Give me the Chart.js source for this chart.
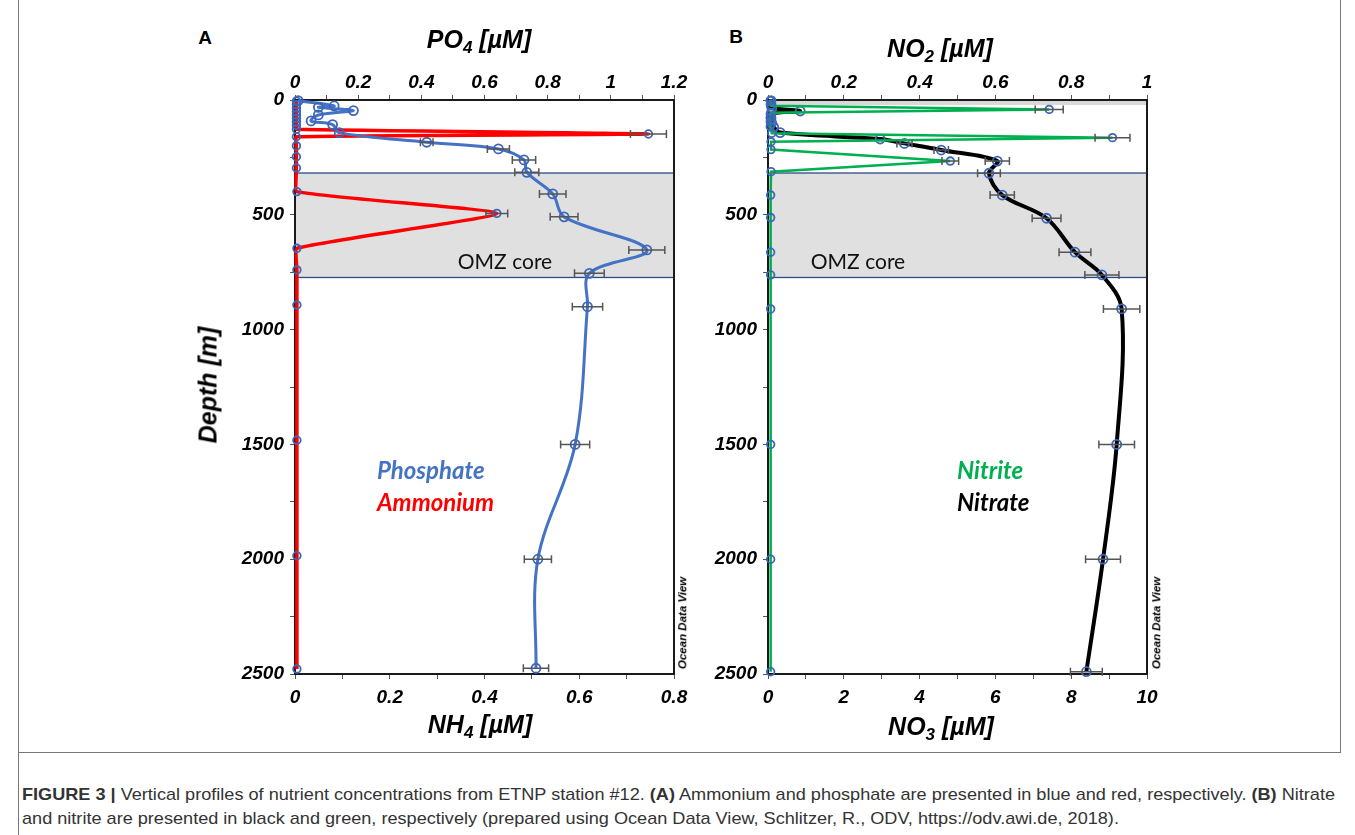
<!DOCTYPE html>
<html>
<head>
<meta charset="utf-8">
<script src="https://cdn.jsdelivr.net/npm/chart.js@4.4.1/dist/chart.umd.min.js"></script>
<style>
body { margin:0; width:1355px; height:835px; background:#fff; position:relative; overflow:hidden; font-family:"Liberation Sans", Arial, sans-serif; }
canvas { position:absolute; }
.t { position:absolute; white-space:nowrap; line-height:1; }
.c { transform:translate(-50%,-50%); }
.l { transform:translate(0,-50%); }
.ax { font-weight:bold; font-style:italic; font-size:25px; color:#000; }
.ax sub { font-size:0.68em; vertical-align:-0.3em; line-height:0; }
.pl { font-weight:bold; font-size:19px; }
.lg { font-family:Lato, "Open Sans", sans-serif; font-weight:bold; font-style:italic; font-size:24px; }
.omz { font-family:Lato, "Open Sans", sans-serif; font-size:21px; color:#111; }
.odv { font-weight:bold; font-style:italic; font-size:11.5px; transform:translate(-50%,-50%) rotate(-90deg); }
.frame { position:absolute; background:#777; }
.cap { position:absolute; left:22px; white-space:nowrap; font-family:"Liberation Sans Narrow", "Liberation Sans", Arial, sans-serif; font-size:17px; line-height:1; color:#333; transform-origin:0 50%; }
</style>
</head>
<body>
<div class="frame" style="left:18px;top:0;width:1px;height:835px"></div>
<div class="frame" style="left:1340px;top:0;width:1px;height:752px"></div>
<div class="frame" style="left:18px;top:752px;width:1323px;height:1px"></div>

<canvas id="chartA" width="490" height="680" style="left:215px;top:50px"></canvas>
<canvas id="chartB" width="490" height="680" style="left:688px;top:50px"></canvas>

<div class="t c pl" style="left:205px;top:37px">A</div>
<div class="t c pl" style="left:736px;top:36px">B</div>
<div class="t c ax" style="left:479px;top:39px">PO<sub>4</sub> [µM]</div>
<div class="t c ax" style="left:480px;top:724px">NH<sub>4</sub> [µM]</div>
<div class="t c ax" style="left:940px;top:48px">NO<sub>2</sub> [µM]</div>
<div class="t c ax" style="left:941px;top:726px">NO<sub>3</sub> [µM]</div>
<div class="t ax" style="left:208px;top:385px;transform:translate(-50%,-50%) rotate(-90deg)">Depth [m]</div>
<div class="t odv" style="left:683px;top:623px">Ocean Data View</div>
<div class="t odv" style="left:1157px;top:623px">Ocean Data View</div>
<div class="t c omz" style="left:505px;top:260px">OMZ core</div>
<div class="t c omz" style="left:858px;top:260px">OMZ core</div>
<div class="t l lg" style="left:377px;top:470px;color:#4472c4">Phosphate</div>
<div class="t l lg" style="left:377px;top:502px;color:#ff0000">Ammonium</div>
<div class="t l lg" style="left:957px;top:470px;color:#00b050">Nitrite</div>
<div class="t l lg" style="left:957px;top:502px;color:#000">Nitrate</div>

<div class="cap" id="cap1" style="top:786px"><b>FIGURE 3 |</b> Vertical profiles of nutrient concentrations from ETNP station #12. <b>(A)</b> Ammonium and phosphate are presented in blue and red, respectively. <b>(B)</b> Nitrate</div>
<div class="cap" id="cap2" style="top:810px">and nitrite are presented in black and green, respectively (prepared using Ocean Data View, Schlitzer, R., ODV, https://odv.awi.de, 2018).</div>

<script>
// Panel A : phosphate (top axis) and ammonium (bottom axis), depth in m
const phosDepth = [3, 26, 32, 46, 65, 91, 107, 142, 184, 213, 261, 315, 409, 509, 653, 755, 900, 1500, 2000, 2475];
const phosValue = [0.01, 0.124, 0.074, 0.185, 0.074, 0.051, 0.119, 0.14, 0.417, 0.644, 0.725, 0.734, 0.816, 0.852, 1.114, 0.932, 0.926, 0.887, 0.769, 0.763];
const phosError = [0, 0, 0, 0, 0, 0, 0, 0, 0.02, 0.035, 0.037, 0.038, 0.042, 0.044, 0.057, 0.047, 0.048, 0.046, 0.043, 0.04];

const ammDepth = [5, 20, 35, 50, 65, 80, 95, 110, 127, 148, 160, 200, 247, 296, 399, 494, 646, 740, 893, 1482, 1985, 2478];
const ammValue = [0.003, 0.003, 0.003, 0.003, 0.003, 0.003, 0.003, 0.003, 0.003, 0.746, 0.003, 0.003, 0.003, 0.003, 0.004, 0.426, 0.004, 0.004, 0.004, 0.004, 0.004, 0.004];
const ammError = [0, 0, 0, 0, 0, 0, 0, 0, 0, 0.038, 0, 0, 0, 0, 0, 0.023, 0, 0, 0, 0, 0, 0];

// Panel B : nitrite (top axis) and nitrate (bottom axis)
const nitriteDepth = [3, 25, 41, 55, 75, 95, 115, 145, 164, 182, 216, 266, 312, 414, 512, 663, 762, 910, 1500, 2000, 2490];
const nitriteValue = [0.006, 0.008, 0.742, 0.008, 0.006, 0.006, 0.006, 0.01, 0.909, 0.008, 0.008, 0.481, 0.008, 0.007, 0.007, 0.007, 0.007, 0.007, 0.007, 0.007, 0.007];
const nitriteError = [0, 0, 0.037, 0, 0, 0, 0, 0, 0.046, 0, 0, 0.022, 0, 0, 0, 0, 0, 0, 0, 0, 0];

const nitrateDepth = [3, 20, 35, 48, 60, 80, 100, 118, 142, 170, 189, 218, 266, 319, 414, 515, 663, 762, 910, 1500, 2000, 2490];
const nitrateValue = [0.08, 0.08, 0.1, 0.85, 0.08, 0.08, 0.1, 0.15, 0.32, 2.96, 3.6, 4.57, 6.05, 5.83, 6.18, 7.35, 8.1, 8.81, 9.33, 9.2, 8.84, 8.4];
const nitrateError = [0, 0, 0, 0, 0, 0, 0, 0, 0, 0, 0.2, 0.19, 0.32, 0.3, 0.32, 0.38, 0.42, 0.45, 0.48, 0.47, 0.46, 0.42];

// OMZ core and surface shading (depth ranges)
const omzRange = [318, 773];
const surfaceRangeB = [0, 22];

const tickFont = { family: 'Liberation Sans', size: 19, weight: 'bold', style: 'italic', lineHeight: 1 };
const markerBlue = '#3d66b8';

const fmt = v => String(parseFloat(v.toFixed(2)));
const every = n => v => Math.abs(v / n - Math.round(v / n)) < 1e-6 ? fmt(v) : '';

function xAxis(pos, max, step, labelStep, h) {
    return {
        type: 'linear', axis: 'x', position: pos, min: 0, max: max,
        afterFit: s => { s.height = h; },
        ticks: { stepSize: step, autoSkip: false, maxRotation: 0, color: '#000', font: tickFont,
                 padding: pos === 'top' ? 3 : 9, callback: every(labelStep) },
        grid: { drawOnChartArea: false, tickLength: 5, color: '#555' },
        border: { display: false }
    };
}

const profilePlugin = {
    id: 'profile',
    beforeDatasetsDraw(chart, args, opts) {
        const { ctx, chartArea: a, scales: { y } } = chart;
        ctx.save();
        (opts.shade || []).forEach(s => {
            const t = y.getPixelForValue(s.range[0]), b = y.getPixelForValue(s.range[1]);
            ctx.fillStyle = s.fill;
            ctx.fillRect(a.left, t, a.right - a.left, b - t);
            if (s.stroke) {
                ctx.strokeStyle = s.stroke; ctx.lineWidth = 1.3;
                ctx.strokeRect(a.left, t, a.right - a.left, b - t);
            }
        });
        ctx.strokeStyle = '#1a1a1a'; ctx.lineWidth = 2;
        ctx.strokeRect(a.left, a.top, a.right - a.left, a.bottom - a.top);
        ctx.restore();
    },
    afterDatasetsDraw(chart) {
        const { ctx, scales } = chart;
        ctx.save();
        ctx.strokeStyle = '#555'; ctx.lineWidth = 1.5;
        chart.data.datasets.forEach(ds => {
            if (!ds.errors) return;
            const xs = scales[ds.xAxisID];
            ds.data.forEach((p, i) => {
                const e = ds.errors[i];
                if (!e) return;
                const x0 = xs.getPixelForValue(p.x - e), x1 = xs.getPixelForValue(p.x + e);
                const py = scales.y.getPixelForValue(p.y);
                ctx.beginPath();
                ctx.moveTo(x0, py); ctx.lineTo(x1, py);
                ctx.moveTo(x0, py - 4); ctx.lineTo(x0, py + 4);
                ctx.moveTo(x1, py - 4); ctx.lineTo(x1, py + 4);
                ctx.stroke();
            });
        });
        ctx.restore();
    }
};

function series(label, depth, value, err, axisId, color, width, tension, radius) {
    return {
        label: label,
        data: depth.map((d, i) => ({ x: value[i], y: d })),
        errors: err,
        xAxisID: axisId, yAxisID: 'y',
        showLine: true,
        borderColor: color, borderWidth: width, tension: tension,
        pointRadius: radius, pointBorderWidth: 1.8,
        pointBorderColor: markerBlue, pointBackgroundColor: 'rgba(0,0,0,0)',
        clip: false
    };
}

function makeChart(id, datasets, top, bottom, shade) {
    new Chart(document.getElementById(id), {
        type: 'scatter',
        data: { datasets: datasets },
        options: {
            responsive: false, animation: false, devicePixelRatio: 1,
            layout: { padding: { left: 0, right: 31, top: 0, bottom: 0 } },
            scales: {
                xTop: top,
                x: bottom,
                y: {
                    type: 'linear', position: 'left', reverse: true, min: 0, max: 2500,
                    afterFit: s => { s.width = 80; },
                    ticks: { stepSize: 250, autoSkip: false, color: '#000', font: tickFont, padding: 6, callback: every(500) },
                    grid: { drawOnChartArea: false, tickLength: 5, color: '#555' },
                    border: { display: false }
                }
            },
            plugins: { legend: { display: false }, tooltip: { enabled: false }, profile: { shade: shade } }
        },
        plugins: [profilePlugin]
    });
}

makeChart('chartA', [
    series('Phosphate', phosDepth, phosValue, phosError, 'xTop', '#4472c4', 3, 0.35, 4.5),
    series('Ammonium', ammDepth, ammValue, ammError, 'x', '#ff0000', 3.5, 0.15, 3.8)
], xAxis('top', 1.2, 0.1, 0.2, 50), xAxis('bottom', 0.8, 0.1, 0.2, 56), [
    { range: omzRange, fill: '#e0e0e0', stroke: '#2e4a86' }
]);

makeChart('chartB', [
    series('Nitrite', nitriteDepth, nitriteValue, nitriteError, 'xTop', '#00b050', 2.5, 0, 3.8),
    series('Nitrate', nitrateDepth, nitrateValue, nitrateError, 'x', '#000000', 4, 0.35, 4.5)
], xAxis('top', 1, 0.1, 0.2, 50), xAxis('bottom', 10, 1, 2, 56), [
    { range: surfaceRangeB, fill: '#d9d9d9' },
    { range: omzRange, fill: '#e0e0e0', stroke: '#2e4a86' }
]);

// fit the caption to the width of the original line
const cap1 = document.getElementById('cap1'), cap2 = document.getElementById('cap2');
const k = 1313 / cap1.getBoundingClientRect().width;
cap1.style.transform = 'scaleX(' + k + ')';
cap2.style.transform = 'scaleX(' + k + ')';
</script>
</body>
</html>
